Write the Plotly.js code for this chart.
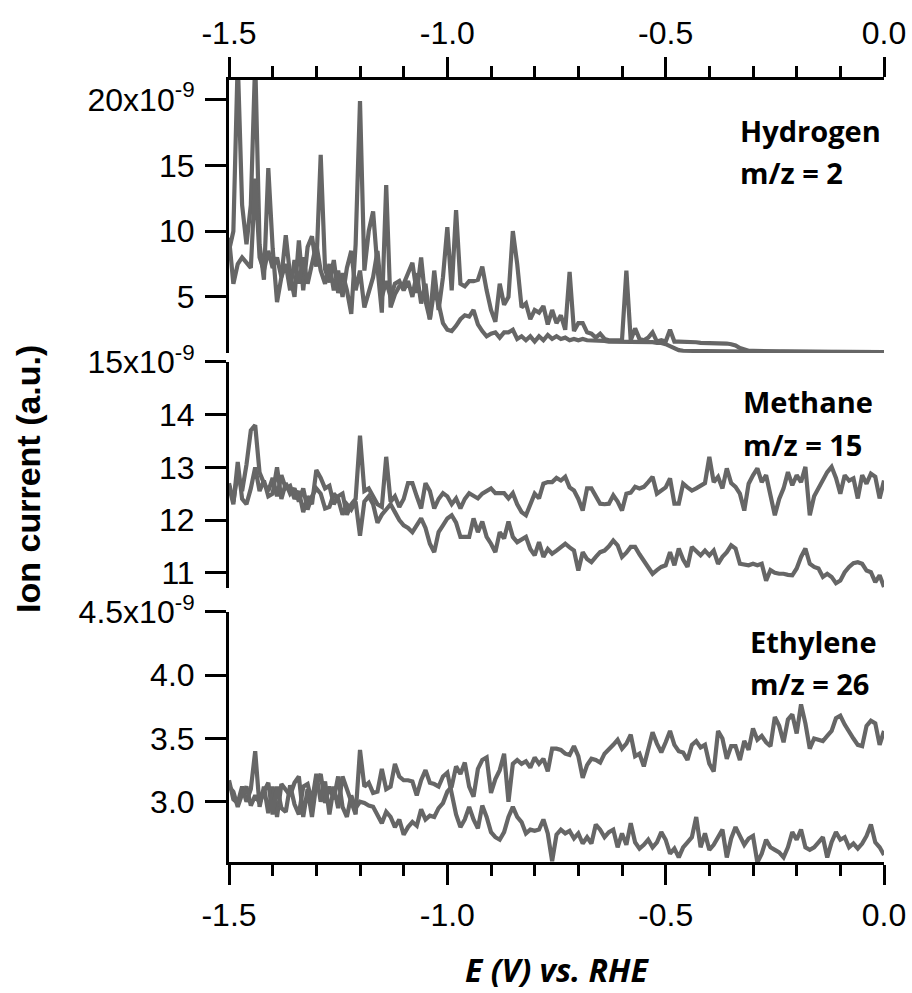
<!DOCTYPE html>
<html>
<head>
<meta charset="utf-8">
<script src="https://cdn.plot.ly/plotly-3.0.1.min.js"></script>
<style>html,body{margin:0;padding:0;background:#fff;}#chart{width:912px;height:993px;}</style>
</head>
<body>
<div id="chart"></div>
<script>
// Potential E (V vs. RHE)
const potential = [-1.50,-1.49,-1.48,-1.47,-1.46,-1.45,-1.44,-1.43,-1.42,-1.41,
-1.40,-1.39,-1.38,-1.37,-1.36,-1.35,-1.34,-1.33,-1.32,-1.31,
-1.30,-1.29,-1.28,-1.27,-1.26,-1.25,-1.24,-1.23,-1.22,-1.21,
-1.20,-1.19,-1.18,-1.17,-1.16,-1.15,-1.14,-1.13,-1.12,-1.11,
-1.10,-1.09,-1.08,-1.07,-1.06,-1.05,-1.04,-1.03,-1.02,-1.01,
-1.00,-0.99,-0.98,-0.97,-0.96,-0.95,-0.94,-0.93,-0.92,-0.91,
-0.90,-0.89,-0.88,-0.87,-0.86,-0.85,-0.84,-0.83,-0.82,-0.81,
-0.80,-0.79,-0.78,-0.77,-0.76,-0.75,-0.74,-0.73,-0.72,-0.71,
-0.70,-0.69,-0.68,-0.67,-0.66,-0.65,-0.64,-0.63,-0.62,-0.61,
-0.60,-0.59,-0.58,-0.57,-0.56,-0.55,-0.54,-0.53,-0.52,-0.51,
-0.50,-0.49,-0.48,-0.47,-0.46,-0.45,-0.44,-0.43,-0.42,-0.41,
-0.40,-0.39,-0.38,-0.37,-0.36,-0.35,-0.34,-0.33,-0.32,-0.31,
-0.30,-0.29,-0.28,-0.27,-0.26,-0.25,-0.24,-0.23,-0.22,-0.21,
-0.20,-0.19,-0.18,-0.17,-0.16,-0.15,-0.14,-0.13,-0.12,-0.11,
-0.10,-0.09,-0.08,-0.07,-0.06,-0.05,-0.04,-0.03,-0.02,-0.01,0.00];

// Ion currents in units of 1e-9 (a.u.)
const hydrogenA = [8.5,10.0,23.0,12.0,9.0,12.0,23.0,9.0,6.3,14.8,
8.7,4.6,6.5,9.7,6.6,5.0,9.3,5.5,8.8,9.6,
7.3,15.8,7.1,6.1,7.8,5.3,6.8,5.5,3.7,9.0,
19.9,7.0,10.0,11.5,7.2,3.8,13.5,4.2,5.2,5.8,
6.0,6.9,7.6,5.3,8.0,4.7,3.3,7.0,4.0,6.5,
10.3,5.5,11.6,6.0,5.8,6.2,6.2,6.3,7.3,5.5,
4.0,3.1,6.0,4.4,5.0,10.0,7.5,4.2,4.5,3.3,
4.0,3.8,4.3,2.9,4.0,3.0,3.6,2.5,6.9,2.4,
3.0,3.0,2.3,2.2,1.9,2.2,1.8,1.7,1.7,1.7,
1.7,7.0,1.7,2.6,1.8,1.7,1.9,2.3,1.6,1.7,
1.6,2.5,1.6,1.6,1.6,1.6,1.55,1.55,1.5,1.5,
1.5,1.5,1.5,1.45,1.45,1.4,1.3,1.1,1.0,0.9,
0.9,0.88,0.87,0.86,0.86,0.85,0.85,0.85,0.84,0.84,
0.84,0.83,0.83,0.83,0.83,0.82,0.82,0.82,0.82,0.82,
0.82,0.82,0.81,0.81,0.81,0.81,0.81,0.81,0.8,0.8,0.8];

const hydrogenB = [9.5,6.0,7.5,8.0,7.6,7.2,14.0,8.0,7.0,8.5,
7.2,8.0,6.5,7.5,5.5,7.8,6.0,8.0,6.0,7.6,
9.0,7.0,6.0,7.5,5.5,7.0,5.0,7.2,8.5,5.5,
7.0,4.2,5.5,6.5,8.5,5.0,6.2,5.0,6.0,6.2,
5.5,6.2,5.0,6.8,4.5,6.0,3.3,5.5,4.5,3.0,
2.5,2.4,2.8,3.3,3.6,3.5,4.0,2.9,2.4,2.0,
2.2,2.3,1.9,2.3,2.3,2.5,1.8,2.0,1.7,2.0,
1.6,2.0,1.7,2.1,1.8,2.0,1.8,1.9,1.7,1.8,
1.7,1.8,1.7,1.7,1.65,1.7,1.65,1.6,1.6,1.6,
1.6,1.6,1.6,1.6,1.6,1.6,1.6,1.55,1.5,1.5,
1.4,1.25,1.05,0.95,0.9,0.9,0.88,0.87,0.86,0.86,
0.85,0.85,0.85,0.84,0.84,0.84,0.83,0.83,0.83,0.83,
0.82,0.82,0.82,0.82,0.82,0.82,0.82,0.82,0.82,0.82,
0.82,0.82,0.81,0.81,0.81,0.81,0.81,0.81,0.81,0.81,
0.8,0.8,0.8,0.8,0.8,0.8,0.8,0.8,0.8,0.8,0.8];

const methaneA = [12.70,12.35,12.90,12.55,13.05,13.70,13.80,12.90,12.70,12.55,
12.80,12.45,12.85,12.60,12.65,12.40,12.55,12.15,12.45,12.30,
12.95,12.80,12.60,12.65,12.30,12.45,12.50,12.10,12.30,12.40,
13.60,12.55,12.60,12.45,12.30,12.25,13.20,12.35,12.45,12.25,
12.40,12.70,12.70,12.45,12.22,12.70,12.55,12.22,12.40,12.51,
12.45,12.30,12.41,12.22,12.40,12.51,12.45,12.41,12.50,12.56,
12.60,12.51,12.51,12.51,12.41,12.51,12.30,12.15,12.09,12.30,
12.50,12.41,12.69,12.72,12.72,12.80,12.75,12.82,12.62,12.56,
12.40,12.18,12.60,12.60,12.45,12.31,12.30,12.31,12.47,12.35,
12.18,12.50,12.52,12.63,12.60,12.63,12.72,12.82,12.50,12.55,
12.62,12.79,12.31,12.31,12.69,12.62,12.56,12.60,12.66,12.70,
13.20,12.72,12.82,12.60,12.98,12.70,12.63,12.50,12.18,12.69,
12.85,12.98,12.72,12.85,12.47,12.09,12.40,12.60,12.91,12.66,
12.85,12.72,13.01,12.09,12.45,12.60,12.79,12.91,13.01,12.80,
12.50,12.85,12.75,12.79,12.41,12.85,12.69,12.88,12.82,12.41,12.75];

const methaneB = [12.65,12.30,13.10,12.40,12.30,12.60,13.00,12.55,12.75,12.45,
12.50,13.00,12.40,12.70,12.50,12.60,12.35,12.60,12.20,12.45,
12.60,12.50,12.22,12.25,12.50,12.40,12.10,12.30,12.20,12.35,
11.70,12.35,12.45,12.30,11.95,12.10,12.20,12.30,12.15,12.00,
11.90,11.85,11.77,11.90,12.03,11.85,11.55,11.39,11.77,11.90,
12.03,12.09,11.95,11.68,11.68,11.68,12.03,11.77,11.97,11.68,
11.55,11.39,11.77,11.65,11.97,11.68,11.58,11.62,11.68,11.45,
11.33,11.58,11.30,11.45,11.36,11.42,11.49,11.55,11.48,11.42,
11.04,11.39,11.26,11.20,11.30,11.39,11.42,11.50,11.61,11.52,
11.30,11.38,11.49,11.49,11.35,11.23,11.10,10.98,11.05,11.11,
11.14,11.39,11.14,11.46,11.25,11.11,11.49,11.40,11.33,11.42,
11.33,11.42,11.17,11.30,11.39,11.52,11.46,11.17,11.16,11.14,
11.17,11.14,11.17,10.85,11.05,11.00,10.98,10.98,10.96,10.95,
11.08,11.30,11.46,11.17,11.11,11.08,10.92,10.98,10.92,10.80,
10.85,11.01,11.11,11.18,11.20,11.17,11.04,11.01,10.82,10.95,10.73];

const ethyleneA = [3.17,3.02,2.99,3.12,3.00,3.10,3.40,2.96,3.12,2.91,
3.12,2.88,3.14,3.10,3.05,3.15,3.20,2.88,3.10,2.88,
3.14,3.22,2.99,3.12,3.02,3.20,2.96,2.88,3.05,2.95,
3.00,2.99,2.97,2.96,2.90,2.83,2.92,2.88,2.80,2.86,
2.74,2.80,2.84,2.81,2.94,2.86,2.89,2.88,2.95,2.99,
3.08,3.12,3.28,3.22,3.31,3.12,3.04,3.26,3.33,3.35,
3.07,3.18,3.25,3.38,3.00,3.30,3.33,3.30,3.32,3.27,
3.35,3.30,3.34,3.24,3.42,3.42,3.41,3.38,3.37,3.44,
3.36,3.19,3.29,3.34,3.33,3.31,3.38,3.41,3.45,3.49,
3.42,3.46,3.53,3.36,3.38,3.28,3.42,3.55,3.46,3.39,
3.47,3.56,3.45,3.40,3.39,3.33,3.45,3.48,3.43,3.45,
3.30,3.24,3.56,3.50,3.34,3.44,3.44,3.33,3.48,3.41,
3.58,3.49,3.52,3.47,3.44,3.67,3.60,3.47,3.65,3.69,
3.54,3.77,3.62,3.42,3.50,3.49,3.48,3.52,3.56,3.66,
3.68,3.61,3.55,3.50,3.45,3.44,3.60,3.64,3.62,3.45,3.56];

const ethyleneB = [3.12,3.08,2.96,3.06,3.12,2.97,3.05,2.99,3.08,3.15,
2.90,3.12,2.95,2.92,3.13,2.98,2.90,3.12,3.14,3.00,
3.22,3.00,3.16,2.90,3.12,2.95,3.20,3.10,3.02,2.90,
3.41,3.12,3.15,3.07,3.08,3.26,3.10,3.12,3.30,3.20,
3.17,3.17,3.16,3.05,3.17,3.25,3.15,3.14,3.12,3.20,
3.23,3.08,2.90,2.80,2.86,2.96,2.86,2.79,2.97,2.88,
2.76,2.72,2.70,2.76,2.88,2.96,2.88,2.84,2.75,2.78,
2.77,2.78,2.86,2.75,2.53,2.74,2.78,2.75,2.77,2.71,
2.75,2.67,2.72,2.67,2.82,2.78,2.72,2.76,2.78,2.64,
2.75,2.66,2.83,2.68,2.63,2.66,2.70,2.64,2.68,2.76,
2.70,2.59,2.63,2.56,2.64,2.68,2.72,2.88,2.64,2.75,
2.62,2.66,2.72,2.78,2.56,2.71,2.80,2.72,2.66,2.71,
2.73,2.52,2.59,2.70,2.64,2.62,2.60,2.56,2.64,2.76,
2.70,2.78,2.64,2.62,2.64,2.68,2.72,2.56,2.68,2.76,
2.70,2.72,2.64,2.67,2.63,2.67,2.73,2.82,2.68,2.64,2.58];

const xTickVals = [-1.5, -1.0, -0.5, 0.0];
const xTickText = ['-1.5', '-1.0', '-0.5', '0.0'];
const h2TickVals = [5, 10, 15, 20];
const h2TickText = ['5', '10', '15', '20x10<sup>-9</sup>'];
const ch4TickVals = [11, 12, 13, 14, 15];
const ch4TickText = ['11', '12', '13', '14', '15x10<sup>-9</sup>'];
const c2h4TickVals = [3.0, 3.5, 4.0, 4.5];
const c2h4TickText = ['3.0', '3.5', '4.0', '4.5x10<sup>-9</sup>'];

const lineStyle = {color: '#666666', width: 4.2};
function tr(y, xa, ya) {
  return {x: potential, y: y, xaxis: xa, yaxis: ya, type: 'scatter', mode: 'lines',
          line: lineStyle, hoverinfo: 'skip', showlegend: false};
}
const data = [
  tr(hydrogenA, 'x2', 'y'), tr(hydrogenB, 'x2', 'y'),
  tr(methaneA, 'x', 'y2'), tr(methaneB, 'x', 'y2'),
  tr(ethyleneA, 'x', 'y3'), tr(ethyleneB, 'x', 'y3')
];

const tickFont = {family: 'Liberation Sans, Arial, sans-serif', size: 32, color: '#000'};
function xAxis(extra) {
  return Object.assign({
    range: [-1.5, 0], showgrid: false, zeroline: false,
    showline: true, linewidth: 3, linecolor: '#000',
    ticks: 'outside', ticklen: 20, tickwidth: 3, tickcolor: '#000',
    tickmode: 'array', tickvals: xTickVals, ticktext: xTickText, tickfont: tickFont,
    minor: {tickmode: 'linear', tick0: -1.5, dtick: 0.1, ticks: 'outside', ticklen: 11, tickwidth: 3, tickcolor: '#000', showgrid: false},
    fixedrange: true
  }, extra);
}
function yAxis(extra) {
  return Object.assign({
    showgrid: false, zeroline: false, showline: true, linewidth: 3, linecolor: '#000',
    ticks: 'outside', ticklen: 21, tickwidth: 3, tickcolor: '#000',
    tickmode: 'array', tickfont: tickFont, ticklabelstandoff: 4, fixedrange: true
  }, extra);
}

const annFont = {family: 'Open Sans, sans-serif', size: 29, color: '#000'};
function label(text, xp, yp) {
  return {text: '<b>' + text + '</b>', xref: 'paper', yref: 'paper', x: xp, y: yp,
          xanchor: 'left', yanchor: 'middle', showarrow: false, font: annFont};
}

const layout = {
  width: 912, height: 993,
  margin: {l: 229, r: 28, t: 80, b: 131, pad: 0},
  paper_bgcolor: '#fff', plot_bgcolor: '#fff',
  font: tickFont,
  showlegend: false,
  xaxis: xAxis({anchor: 'y3', side: 'bottom', domain: [0, 1], ticklabelstandoff: 3}),
  xaxis2: xAxis({anchor: 'y', side: 'top', domain: [0, 1]}),
  yaxis: yAxis({anchor: 'x2', domain: [0.6509, 1], range: [0.73, 21.5], tickvals: h2TickVals, ticktext: h2TickText}),
  yaxis2: yAxis({anchor: 'x', domain: [0.3504, 0.6394], range: [10.71, 15.0], tickvals: ch4TickVals, ticktext: ch4TickText}),
  yaxis3: yAxis({anchor: 'x', domain: [0, 0.3197], range: [2.524, 4.5], tickvals: c2h4TickVals, ticktext: c2h4TickText}),
  annotations: [
    label('Hydrogen', 0.7770, 0.9348),
    label('m/z = 2', 0.7770, 0.8811),
    label('Methane', 0.7815, 0.5895),
    label('m/z = 15', 0.7815, 0.5345),
    label('Ethylene', 0.7922, 0.2826),
    label('m/z = 26', 0.7922, 0.2289),
    {text: '<b>Ion current (a.u.)</b>', xref: 'paper', yref: 'paper', x: -0.3070, y: 0.4898,
     xanchor: 'center', yanchor: 'middle', textangle: -90, showarrow: false,
     font: {family: 'Liberation Sans, Arial, sans-serif', size: 34, color: '#000'}},
    {text: '<b><i>E (V) vs. RHE</i></b>', xref: 'paper', yref: 'paper', x: 0.5008, y: -0.1381,
     xanchor: 'center', yanchor: 'middle', showarrow: false,
     font: {family: 'Open Sans, sans-serif', size: 32, color: '#000'}}
  ]
};

Plotly.newPlot('chart', data, layout, {staticPlot: true, displayModeBar: false});
</script>
</body>
</html>
